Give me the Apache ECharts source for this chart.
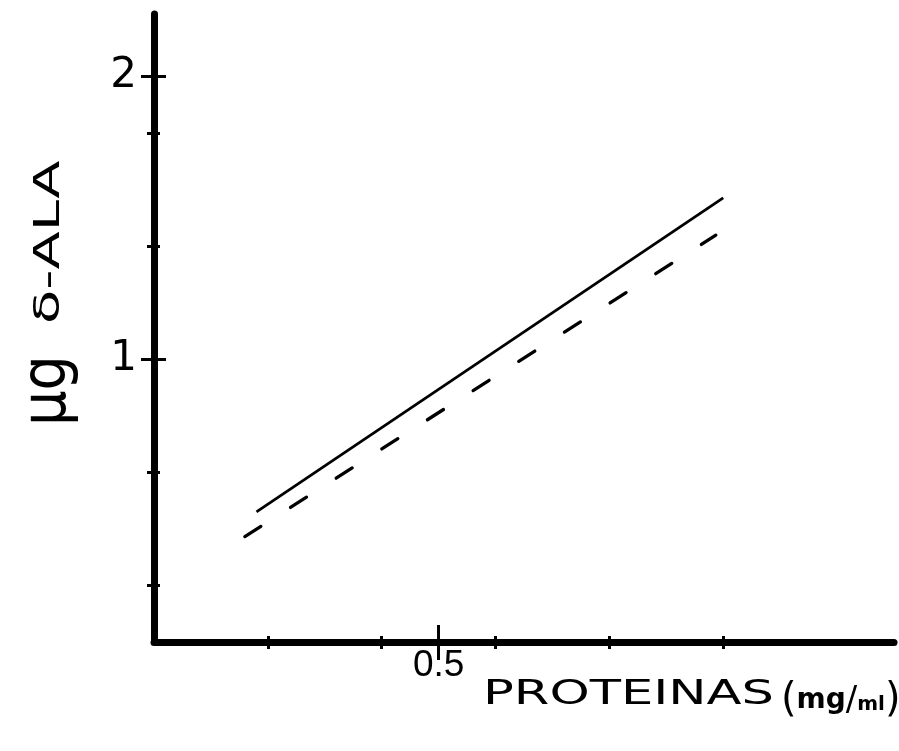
<!DOCTYPE html>
<html>
<head>
<meta charset="utf-8">
<script src="https://cdn.jsdelivr.net/npm/echarts@6/dist/echarts.min.js"></script>
<style>
  html, body { margin: 0; padding: 0; background: #fff; }
  #chart { width: 899px; height: 751px; }
</style>
</head>
<body>
<div id="chart"></div>
<script>
// Axis ranges
const xRange = [0, 1.3];
const yRange = [0, 2.22];

// Tick positions
const xMinorTicks = [0.2, 0.4, 0.6, 0.8, 1.0];
const xMajorTicks = [0.5];
const xTickLabels = ['0.5'];
const yMinorTicks = [0.2, 0.6, 1.4, 1.8];
const yMajorTicks = [1, 2];
const yTickLabels = ['1', '2'];

// Regression lines (protein mg/ml vs µg δ-ALA)
const solidX = [0.18, 1.0];
const solidY = [0.46, 1.57];
const dashedX = [0.146, 0.987];
const dashedY = [0.355, 1.438];

const FONT = '"DejaVu Sans", sans-serif';
const INK = '#000';

function pairs(xs, ys) { return xs.map((x, i) => [x, ys[i]]); }

// One axis layer: ticks on one side only, so each tick set is drawn twice
// (inside + outside) to cross the axis line.
function axisLayer(dim, opts) {
  const range = dim === 'x' ? xRange : yRange;
  return {
    type: 'value',
    min: range[0],
    max: range[1],
    position: dim === 'x' ? 'bottom' : 'left',
    offset: 0,
    splitLine: { show: false },
    axisLine: {
      show: !!opts.line,
      onZero: false,
      lineStyle: { color: INK, width: 7, cap: 'round' }
    },
    axisTick: {
      show: true,
      customValues: opts.ticks,
      inside: !!opts.inside,
      length: opts.len,
      lineStyle: { color: INK, width: 3 }
    },
    axisLabel: opts.labels ? {
      show: true,
      customValues: opts.labels.values,
      formatter: (v) => opts.labels.text[opts.labels.values.indexOf(v)] || '',
      color: INK,
      fontFamily: opts.labels.font,
      fontSize: opts.labels.size,
      margin: opts.labels.margin
    } : { show: false }
  };
}

const chart = echarts.init(document.getElementById('chart'), null, { renderer: 'canvas' });

chart.setOption({
  animation: false,
  backgroundColor: '#fff',
  grid: { left: 154, right: 5, top: 14, bottom: 109, containLabel: false },
  xAxis: [
    axisLayer('x', { line: true, ticks: xMinorTicks, len: 7,
      labels: { values: xMajorTicks, text: xTickLabels, font: '"Liberation Sans", sans-serif', size: 37, margin: 5 } }),
    axisLayer('x', { ticks: xMinorTicks, len: 6, inside: true }),
    axisLayer('x', { ticks: xMajorTicks, len: 18 }),
    axisLayer('x', { ticks: xMajorTicks, len: 17, inside: true })
  ],
  yAxis: [
    axisLayer('y', { line: true, ticks: yMinorTicks, len: 7,
      labels: { values: yMajorTicks, text: yTickLabels, font: FONT, size: 42, margin: 17 } }),
    axisLayer('y', { ticks: yMinorTicks, len: 6, inside: true }),
    axisLayer('y', { ticks: yMajorTicks, len: 13 }),
    axisLayer('y', { ticks: yMajorTicks, len: 12, inside: true })
  ],
  series: [
    {
      type: 'line',
      xAxisIndex: 0,
      yAxisIndex: 0,
      data: pairs(solidX, solidY),
      symbol: 'none',
      lineStyle: { color: INK, width: 2.8 }
    },
    {
      type: 'line',
      xAxisIndex: 0,
      yAxisIndex: 0,
      data: pairs(dashedX, dashedY),
      symbol: 'none',
      lineStyle: { color: INK, width: 3.3, type: [19, 35.2], dashOffset: -9.2, cap: 'round' }
    }
  ],
  graphic: [
    // y-axis title, read bottom to top
    {
      type: 'text', x: 49, y: 426, rotation: Math.PI / 2, scaleX: 0.9,
      style: { text: 'μg', fontFamily: FONT, fontSize: 62, fill: INK, align: 'left', verticalAlign: 'middle' }
    },
    {
      type: 'text', x: 49.5, y: 324, rotation: Math.PI / 2, scaleX: 1.6,
      style: { text: 'δ-ALA', fontFamily: FONT, fontSize: 35, fill: INK, align: 'left', verticalAlign: 'middle' }
    },
    // x-axis title
    {
      type: 'text', x: 483, y: 695.6, scaleX: 1.55,
      style: { text: 'PROTEINAS', fontFamily: FONT, fontSize: 33, fill: INK, align: 'left', verticalAlign: 'middle' }
    },
    {
      type: 'text', x: 781, y: 701,
      style: {
        text: '{p|(}{a|mg}{s|/}{b|ml}{p|)}',
        fill: INK, align: 'left', verticalAlign: 'middle',
        rich: {
          p: { fontFamily: FONT, fontSize: 40, fill: INK, verticalAlign: 'middle' },
          a: { fontFamily: FONT, fontSize: 28, fill: INK, verticalAlign: 'middle', fontWeight: 'bold' },
          s: { fontFamily: FONT, fontSize: 34, fill: INK, verticalAlign: 'middle' },
          b: { fontFamily: FONT, fontSize: 20, fill: INK, verticalAlign: 'middle', fontWeight: 'bold', padding: [8, 0, 0, 0] }
        }
      }
    }
  ]
});
</script>
</body>
</html>
